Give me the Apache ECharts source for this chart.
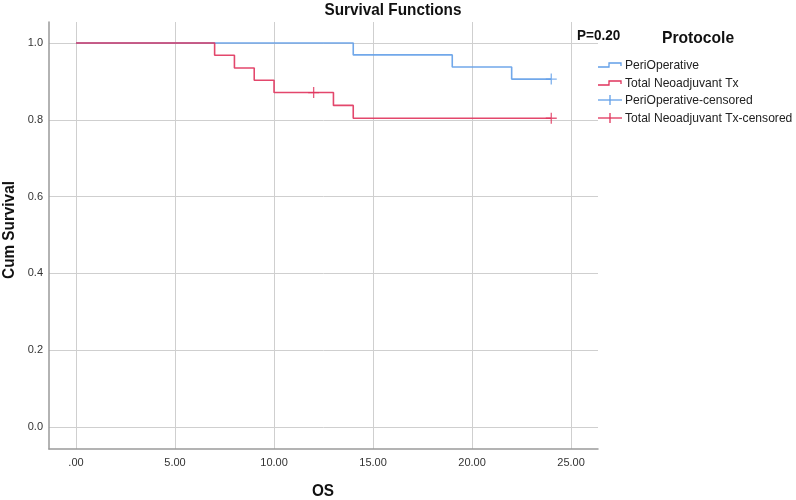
<!DOCTYPE html>
<html><head><meta charset="utf-8">
<script src="https://cdn.jsdelivr.net/npm/echarts@6/dist/echarts.min.js"></script>
<style>html,body{margin:0;padding:0;background:#fff}#c{width:796px;height:500px}</style>
</head><body><div id="c"></div>
<script>
// Step data (time, cumulative survival)
const periTimes = [0, 14, 19, 22, 24];
const periSurv = [1.0, 0.969, 0.9375, 0.906, 0.906];
const tntTimes = [0, 7, 8, 9, 10, 13, 14, 24];
const tntSurv = [1.0, 0.968, 0.935, 0.903, 0.871, 0.8375, 0.804, 0.804];
// censored points
const periCensTimes = [24];
const periCensSurv = [0.906];
const tntCensTimes = [12, 24];
const tntCensSurv = [0.871, 0.804];
// ticks
const xTicks = [0, 5, 10, 15, 20, 25];
const yTicks = [0, 0.2, 0.4, 0.6, 0.8, 1.0];
const legendNames = ['PeriOperative', 'Total Neoadjuvant Tx', 'PeriOperative-censored', 'Total Neoadjuvant Tx-censored'];

const BLUE = '#629fe8', RED = '#e0335c';
const FONT = '"Liberation Sans", Arial, sans-serif';
const zip = (a, b) => a.map((v, i) => [v, b[i]]);
const plus = 'path://M4.4,0h1.2v10h-1.2z M0,4.4h10v1.2h-10z';

const chart = echarts.init(document.getElementById('c'), null, {renderer: 'canvas'});
const legendY = [65, 83, 100, 118];
const graphics = [];
legendNames.forEach((n, i) => {
  const y = legendY[i];
  const col = i % 2 === 0 ? BLUE : RED;
  if (i < 2) {
    graphics.push({type: 'polyline', shape: {points: [[598, y + 2], [609, y + 2], [609, y - 2], [621, y - 2], [621, y + 1]]},
      style: {stroke: col, lineWidth: 1.3, fill: null}, silent: true});
  } else {
    graphics.push({type: 'line', shape: {x1: 598, y1: y, x2: 622, y2: y}, style: {stroke: col, lineWidth: 1.3}, silent: true});
    graphics.push({type: 'line', shape: {x1: 610, y1: y - 5, x2: 610, y2: y + 5}, style: {stroke: col, lineWidth: 1.3}, silent: true});
  }
  graphics.push({type: 'text', x: 625, y: y, scaleX: 0.93,
    style: {text: n, font: '13px ' + FONT, fill: '#222', align: 'left', verticalAlign: 'middle'}, silent: true});
});
graphics.push({type: 'text', x: 577, y: 36, scaleX: 0.9, style: {text: 'P=0.20', font: 'bold 15px ' + FONT, fill: '#111', align: 'left', verticalAlign: 'middle'}});
graphics.push({type: 'text', x: 662, y: 38, scaleX: 0.92, style: {text: 'Protocole', font: 'bold 17px ' + FONT, fill: '#111', align: 'left', verticalAlign: 'middle'}});
graphics.push({type: 'text', x: 393, y: 10, scaleX: 0.9, style: {text: 'Survival Functions', font: 'bold 17px ' + FONT, fill: '#111', align: 'center', verticalAlign: 'middle'}});
graphics.push({type: 'text', x: 323, y: 491, scaleX: 0.9, style: {text: 'OS', font: 'bold 17px ' + FONT, fill: '#111', align: 'center', verticalAlign: 'middle'}});
graphics.push({type: 'text', x: 9, y: 230, rotation: Math.PI / 2, scaleX: 0.9, style: {text: 'Cum Survival', font: 'bold 17px ' + FONT, fill: '#111', align: 'center', verticalAlign: 'middle'}});

chart.setOption({
  animation: false,
  grid: {left: 49, right: 198, top: 22, bottom: 51, containLabel: false},
  xAxis: {type: 'value', min: -1.364, max: 26.36,
    axisLine: {show: true, onZero: false, lineStyle: {color: '#9a9a9a', width: 1.5}},
    axisTick: {show: false, customValues: xTicks},
    axisLabel: {customValues: xTicks, margin: 8, fontFamily: FONT, fontSize: 11, color: '#333',
      formatter: v => v === 0 ? '.00' : v.toFixed(2)},
    splitLine: {show: true, lineStyle: {color: '#cfcfcf', width: 1}}},
  yAxis: {type: 'value', min: -0.0573, max: 1.0547,
    axisLine: {show: true, onZero: false, lineStyle: {color: '#9a9a9a', width: 1.5}},
    axisTick: {show: false, customValues: yTicks},
    axisLabel: {customValues: yTicks, margin: 6, fontFamily: FONT, fontSize: 11, color: '#333',
      formatter: v => v.toFixed(1)},
    splitLine: {show: true, lineStyle: {color: '#cfcfcf', width: 1}}},
  graphic: graphics,
  series: [
    {name: legendNames[0], type: 'line', step: 'end', data: zip(periTimes, periSurv), showSymbol: false,
      lineStyle: {color: BLUE, width: 1.6, opacity: 0.9}, z: 3},
    {name: legendNames[1], type: 'line', step: 'end', data: zip(tntTimes, tntSurv), showSymbol: false,
      lineStyle: {color: RED, width: 1.6, opacity: 0.9}, z: 4},
    {name: legendNames[2], type: 'scatter', data: zip(periCensTimes, periCensSurv), symbol: plus, symbolSize: 11,
      itemStyle: {color: BLUE}, z: 5},
    {name: legendNames[3], type: 'scatter', data: zip(tntCensTimes, tntCensSurv), symbol: plus, symbolSize: 11,
      itemStyle: {color: RED}, z: 5}
  ]
});
</script></body></html>
